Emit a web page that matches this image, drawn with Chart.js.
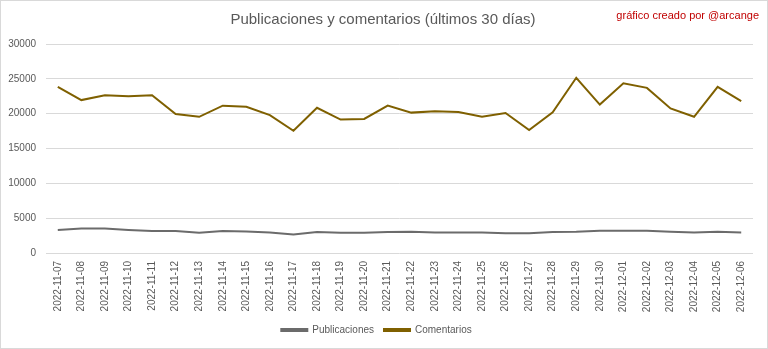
<!DOCTYPE html>
<html>
<head>
<meta charset="utf-8">
<script src="https://cdn.jsdelivr.net/npm/chart.js@4"></script>
<style>
  html, body { margin: 0; padding: 0; background: #fff; }
  #wrap { width: 768px; height: 349px; position: relative; }
</style>
</head>
<body>
<div id="wrap"><canvas id="grafico"></canvas></div>
<script>
const fechas = [
  "2022-11-07", "2022-11-08", "2022-11-09", "2022-11-10", "2022-11-11", "2022-11-12",
  "2022-11-13", "2022-11-14", "2022-11-15", "2022-11-16", "2022-11-17", "2022-11-18",
  "2022-11-19", "2022-11-20", "2022-11-21", "2022-11-22", "2022-11-23", "2022-11-24",
  "2022-11-25", "2022-11-26", "2022-11-27", "2022-11-28", "2022-11-29", "2022-11-30",
  "2022-12-01", "2022-12-02", "2022-12-03", "2022-12-04", "2022-12-05", "2022-12-06"
];

const publicaciones = [
  3300, 3500, 3500, 3300, 3150, 3150, 2900, 3150, 3100, 2950,
  2650, 3000, 2900, 2900, 3000, 3050, 2950, 2950, 2950, 2850,
  2850, 3000, 3050, 3200, 3200, 3200, 3050, 2950, 3050, 2950
];

const comentarios = [
  23850, 21950, 22650, 22500, 22650, 19950, 19550, 21150, 21000, 19800,
  17550, 20850, 19150, 19250, 21150, 20150, 20350, 20250, 19550, 20100,
  17650, 20200, 25150, 21300, 24350, 23700, 20750, 19550, 23850, 21800
];

const titulo = "Publicaciones y comentarios (últimos 30 días)";
const firma = "gráfico creado por @arcange";

const gris = "#595959";
const fuente = "'Liberation Sans', Arial, sans-serif";

// fondo, borde y textos de cabecera
const cabecera = {
  id: "cabecera",
  beforeDraw(chart) {
    const ctx = chart.ctx;
    ctx.save();
    ctx.fillStyle = "#fff";
    ctx.fillRect(0, 0, chart.width, chart.height);
    ctx.strokeStyle = "#d9d9d9";
    ctx.lineWidth = 1;
    ctx.strokeRect(0.5, 0.5, chart.width - 1, chart.height - 1);
    ctx.restore();
  },
  afterDraw(chart) {
    const ctx = chart.ctx;
    ctx.save();
    ctx.textBaseline = "middle";
    ctx.fillStyle = gris;
    ctx.font = "15px " + fuente;
    ctx.textAlign = "center";
    ctx.fillText(titulo, 383, 20);
    ctx.fillStyle = "#c00000";
    ctx.font = "11px " + fuente;
    ctx.textAlign = "right";
    ctx.fillText(firma, 759, 16);
    ctx.restore();
  }
};

const config = {
  type: "line",
  data: {
    labels: fechas,
    datasets: [
      {
        label: "Publicaciones",
        data: publicaciones,
        borderColor: "#6b6b6b",
        backgroundColor: "#6b6b6b",
        borderWidth: 2,
        pointRadius: 0,
        tension: 0,
        fill: false
      },
      {
        label: "Comentarios",
        data: comentarios,
        borderColor: "#7f6000",
        backgroundColor: "#7f6000",
        borderWidth: 2,
        pointRadius: 0,
        tension: 0,
        fill: false
      }
    ]
  },
  options: {
    responsive: true,
    maintainAspectRatio: false,
    animation: false,
    layout: { padding: { top: 44, right: 15, left: 0, bottom: 4 } },
    plugins: {
      title: { display: false },
      tooltip: { enabled: false },
      legend: {
        position: "bottom",
        labels: {
          color: gris,
          font: { family: fuente, size: 10 },
          boxWidth: 26,
          boxHeight: 2,
          padding: 10
        }
      }
    },
    scales: {
      x: {
        offset: true,
        grid: { display: false, drawTicks: false },
        border: { display: false },
        afterFit(scale) { scale.height = 62; },
        ticks: {
          color: gris,
          font: { family: fuente, size: 10 },
          minRotation: 90,
          maxRotation: 90,
          autoSkip: false,
          padding: 8
        }
      },
      y: {
        min: 0,
        max: 30000,
        grid: { color: "#d9d9d9", drawTicks: false },
        border: { display: false },
        afterFit(scale) { scale.width = 46; },
        ticks: {
          stepSize: 5000,
          color: gris,
          font: { family: fuente, size: 10 },
          padding: 10,
          callback: (v) => String(v)
        }
      }
    }
  },
  plugins: [cabecera]
};

new Chart(document.getElementById("grafico"), config);
</script>
</body>
</html>
